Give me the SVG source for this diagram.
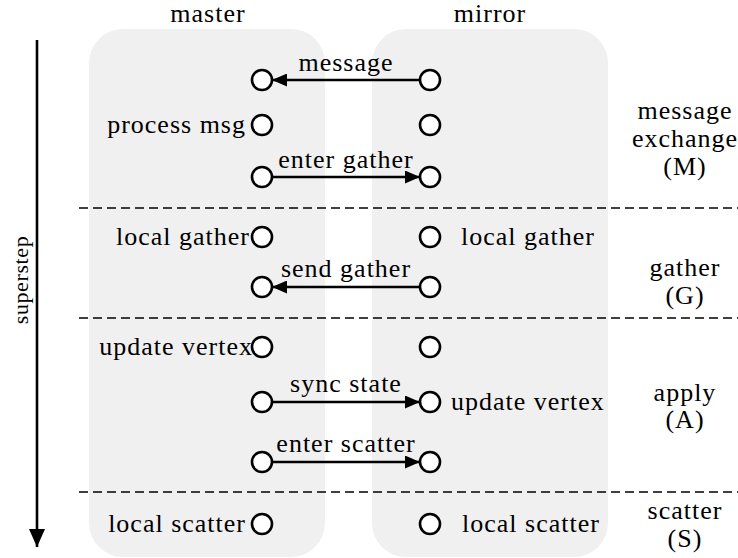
<svg xmlns="http://www.w3.org/2000/svg" width="738" height="558" viewBox="0 0 738 558">
  <style>
    text { font-family: "Liberation Serif", "DejaVu Serif", serif; font-size: 26px; letter-spacing: 1px; fill: #000; }
    .mid { text-anchor: middle; }
    .end { text-anchor: end; }
    .axis-label { font-size: 22px; letter-spacing: 0.6px; }
    .panel { fill: #f0f0f0; }
    .node { fill: #fff; stroke: #000; stroke-width: 2.6; }
    .edge { stroke: #000; stroke-width: 2.6; fill: none; }
    .phase { stroke: #000; stroke-width: 1.4; stroke-dasharray: 9 5; }
  </style>
  <defs>
    <marker id="head" viewBox="0 0 15 13" refX="15" refY="6.5" markerWidth="15" markerHeight="13" markerUnits="userSpaceOnUse" orient="auto">
      <path d="M0,0 L15,6.5 L0,13 z" fill="#000"/>
    </marker>
    <marker id="axis-head" viewBox="0 0 18 16" refX="18" refY="8" markerWidth="18" markerHeight="16" markerUnits="userSpaceOnUse" orient="auto">
      <path d="M0,0 L18,8 L0,16 z" fill="#000"/>
    </marker>
  </defs>

  <!-- columns -->
  <g id="col-master">
    <rect class="panel" x="89" y="29" width="236" height="528" rx="34"/>
    <text class="mid" x="208" y="22">master</text>
  </g>
  <g id="col-mirror">
    <rect class="panel" x="372" y="29" width="236" height="528" rx="34"/>
    <text class="mid" x="490" y="22">mirror</text>
  </g>

  <!-- phase separators -->
  <g id="separators">
    <line class="phase" x1="79" y1="208" x2="738" y2="208"/>
    <line class="phase" x1="79" y1="318" x2="738" y2="318"/>
    <line class="phase" x1="79" y1="492" x2="738" y2="492"/>
  </g>

  <!-- superstep axis -->
  <g id="axis">
    <line class="edge" x1="37" y1="40" x2="37" y2="547" marker-end="url(#axis-head)"/>
    <text class="mid axis-label" transform="translate(28,280) rotate(-90)">superstep</text>
  </g>

  <!-- connectors -->
  <g id="connectors">
    <line class="edge" x1="420" y1="80" x2="272" y2="80" marker-end="url(#head)"/>
    <text class="mid" x="346" y="71">message</text>
    <line class="edge" x1="272" y1="177" x2="420" y2="177" marker-end="url(#head)"/>
    <text class="mid" x="346" y="168">enter gather</text>
    <line class="edge" x1="420" y1="287" x2="272" y2="287" marker-end="url(#head)"/>
    <text class="mid" x="346" y="277">send gather</text>
    <line class="edge" x1="272" y1="402" x2="420" y2="402" marker-end="url(#head)"/>
    <text class="mid" x="346" y="392">sync state</text>
    <line class="edge" x1="272" y1="462" x2="420" y2="462" marker-end="url(#head)"/>
    <text class="mid" x="346" y="452">enter scatter</text>
  </g>

  <!-- master nodes -->
  <g id="m-recv"><circle class="node" cx="262" cy="80" r="10"/></g>
  <g id="m-process"><circle class="node" cx="262" cy="125" r="10"/><text class="end" x="246" y="133">process msg</text></g>
  <g id="m-enter-gather"><circle class="node" cx="262" cy="177" r="10"/></g>
  <g id="m-local-gather"><circle class="node" cx="262" cy="237" r="10"/><text class="end" x="250" y="245">local gather</text></g>
  <g id="m-recv-gather"><circle class="node" cx="262" cy="287" r="10"/></g>
  <g id="m-update"><circle class="node" cx="262" cy="347" r="10"/><text class="end" x="253" y="355">update vertex</text></g>
  <g id="m-sync"><circle class="node" cx="262" cy="402" r="10"/></g>
  <g id="m-enter-scatter"><circle class="node" cx="262" cy="462" r="10"/></g>
  <g id="m-local-scatter"><circle class="node" cx="262" cy="524" r="10"/><text class="end" x="246" y="532">local scatter</text></g>

  <!-- mirror nodes -->
  <g id="r-send"><circle class="node" cx="430" cy="80" r="10"/></g>
  <g id="r-idle"><circle class="node" cx="430" cy="125" r="10"/></g>
  <g id="r-enter-gather"><circle class="node" cx="430" cy="177" r="10"/></g>
  <g id="r-local-gather"><circle class="node" cx="430" cy="237" r="10"/><text x="461" y="245">local gather</text></g>
  <g id="r-send-gather"><circle class="node" cx="430" cy="287" r="10"/></g>
  <g id="r-wait"><circle class="node" cx="430" cy="347" r="10"/></g>
  <g id="r-update"><circle class="node" cx="430" cy="402" r="10"/><text x="451" y="410">update vertex</text></g>
  <g id="r-enter-scatter"><circle class="node" cx="430" cy="462" r="10"/></g>
  <g id="r-local-scatter"><circle class="node" cx="430" cy="524" r="10"/><text x="462" y="532">local scatter</text></g>

  <!-- phase names -->
  <g id="phase-labels">
    <text class="mid" x="685" y="119">message</text>
    <text class="mid" x="685" y="147">exchange</text>
    <text class="mid" x="685" y="175">(M)</text>
    <text class="mid" x="685" y="276">gather</text>
    <text class="mid" x="685" y="304">(G)</text>
    <text class="mid" x="685" y="401">apply</text>
    <text class="mid" x="685" y="428">(A)</text>
    <text class="mid" x="685" y="519">scatter</text>
    <text class="mid" x="685" y="547">(S)</text>
  </g>
</svg>
